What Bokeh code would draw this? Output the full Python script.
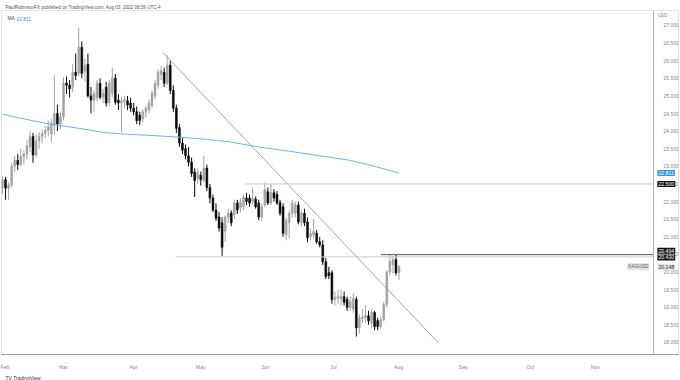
from bokeh.plotting import figure
from bokeh.models import ColumnDataSource, FixedTicker, NumeralTickFormatter, Label, Range1d, Title
from bokeh.embed import file_html
from bokeh.resources import INLINE

# ---------------- data ----------------
opens = [22.40, 22.62, 22.38, 22.47, 23.00, 23.17, 23.05, 23.28, 23.35, 23.55,
         23.85, 23.32, 23.72, 23.85, 23.93, 24.02, 23.92, 24.18, 24.50, 24.20,
         24.40, 25.36, 25.30, 25.25, 25.67, 25.64, 26.38, 25.70, 25.90, 25.00,
         24.88, 24.95, 25.36, 24.96, 25.25, 24.80, 25.07, 25.50, 24.88, 24.80,
         24.84, 24.86, 24.80, 24.65, 24.55, 24.45, 24.35, 24.55, 24.60, 24.73,
         25.00, 25.30, 25.60, 25.67, 25.36, 25.87, 25.16, 24.65, 24.10, 23.66,
         23.50, 23.30, 23.12, 22.84, 22.66, 22.75, 22.60, 22.95, 22.40, 22.10,
         21.76, 21.56, 21.40, 21.14, 21.56, 21.67, 21.62, 21.96, 21.82, 21.85,
         22.10, 22.10, 22.00, 22.07, 21.96, 21.56, 21.90, 22.28, 21.96, 22.25,
         22.20, 21.97, 21.85, 21.05, 21.40, 21.67, 21.67, 21.90, 21.42, 21.67,
         21.42, 21.00, 21.05, 21.10, 20.86, 20.77, 20.29, 19.98, 19.98, 19.22,
         19.25, 19.24, 19.30, 19.22, 18.99, 18.95, 19.22, 18.42, 18.68, 18.70,
         18.76, 18.56, 18.85, 18.62, 18.45, 18.65, 19.07, 20.00, 20.20, 20.35,
         19.98]
highs = [22.72, 22.70, 22.55, 23.10, 23.30, 23.35, 23.50, 23.45, 23.75, 24.00,
         23.95, 23.90, 23.98, 24.05, 24.15, 24.30, 24.35, 25.60, 24.75, 24.55,
         25.53, 25.55, 25.45, 25.90, 26.20, 26.94, 26.55, 26.05, 26.20, 25.25,
         25.15, 25.45, 25.50, 25.20, 25.40, 25.45, 25.80, 25.62, 25.05, 24.98,
         25.00, 25.00, 24.95, 24.80, 24.70, 24.55, 24.62, 24.72, 24.90, 25.15,
         25.45, 25.75, 25.85, 25.80, 26.15, 26.00, 25.30, 24.75, 24.20, 23.80,
         23.62, 23.55, 23.25, 22.95, 22.95, 22.85, 23.30, 23.05, 22.50, 22.20,
         21.95, 21.70, 21.55, 21.60, 21.80, 21.75, 22.05, 22.05, 22.10, 22.20,
         22.25, 22.20, 22.40, 22.15, 22.05, 21.95, 22.53, 22.40, 22.50, 22.35,
         22.30, 22.05, 21.95, 21.55, 21.75, 22.05, 22.00, 22.00, 21.75, 21.80,
         21.55, 21.25, 21.50, 21.20, 21.00, 20.90, 20.40, 20.15, 20.05, 19.45,
         19.50, 19.50, 19.45, 19.30, 19.30, 19.40, 19.30, 18.80, 18.95, 19.05,
         18.90, 18.95, 18.90, 18.70, 18.75, 19.15, 20.05, 20.49, 20.45, 20.494,
         20.20]
lows = [22.22, 22.05, 22.05, 22.40, 22.85, 22.90, 23.00, 23.05, 23.20, 23.40,
        23.10, 23.25, 23.50, 23.65, 23.80, 23.85, 23.70, 23.90, 24.00, 24.05,
        24.30, 25.05, 24.95, 25.10, 25.45, 25.55, 25.50, 25.40, 24.95, 24.50,
        24.55, 24.85, 24.90, 24.80, 24.70, 24.70, 24.95, 24.75, 24.60, 23.97,
        24.65, 24.60, 24.55, 24.45, 24.20, 24.17, 24.25, 24.40, 24.50, 24.65,
        24.90, 25.20, 25.45, 25.25, 25.30, 25.05, 24.55, 23.95, 23.55, 23.35,
        23.20, 23.00, 22.70, 22.13, 22.50, 22.45, 22.55, 22.30, 21.95, 21.70,
        21.45, 21.15, 20.46, 20.85, 21.40, 21.30, 21.50, 21.65, 21.70, 21.75,
        21.90, 21.85, 21.90, 21.80, 21.47, 21.45, 21.85, 21.90, 21.90, 22.00,
        21.90, 21.60, 21.00, 20.90, 20.95, 21.55, 21.55, 21.35, 21.30, 21.30,
        20.85, 20.90, 20.95, 20.80, 20.70, 20.20, 19.80, 19.80, 19.10, 19.05,
        19.10, 19.05, 19.05, 18.90, 18.90, 18.85, 18.17, 18.25, 18.55, 18.55,
        18.50, 18.40, 18.35, 18.35, 18.40, 18.60, 19.00, 19.90, 19.95, 19.90,
        19.78]
closes = [22.62, 22.38, 22.47, 23.00, 23.17, 23.05, 23.28, 23.35, 23.58, 23.85,
          23.32, 23.72, 23.85, 23.93, 24.02, 24.12, 24.22, 24.50, 24.20, 24.40,
          25.36, 25.30, 25.20, 25.67, 25.58, 26.38, 25.64, 25.88, 25.00, 24.88,
          25.07, 25.36, 24.96, 25.07, 24.80, 25.36, 25.50, 24.82, 24.80, 24.86,
          24.90, 24.74, 24.65, 24.55, 24.30, 24.30, 24.55, 24.65, 24.80, 25.07,
          25.36, 25.67, 25.72, 25.36, 25.87, 25.16, 24.65, 24.08, 23.66, 23.46,
          23.30, 23.12, 22.80, 22.60, 22.81, 22.62, 22.95, 22.40, 22.10, 21.76,
          21.53, 21.25, 20.70, 21.56, 21.67, 21.40, 21.96, 21.76, 21.99, 22.13,
          22.00, 21.96, 22.10, 21.85, 21.56, 21.85, 22.33, 21.96, 22.25, 22.10,
          21.96, 21.67, 21.10, 21.47, 21.67, 21.96, 21.90, 21.42, 21.67, 21.40,
          20.97, 21.10, 21.15, 20.86, 20.77, 20.29, 19.87, 19.90, 19.22, 19.28,
          19.30, 19.32, 19.14, 18.99, 19.16, 19.25, 18.42, 18.70, 18.72, 18.76,
          18.62, 18.85, 18.45, 18.45, 18.65, 19.07, 20.00, 20.29, 20.35, 19.98,
          20.148]
bar_index = list(range(len(closes)))

ma_index = [0, 8, 16, 25, 34, 44, 54, 64, 74, 84, 94, 104, 114, 122, 130]
ma_values = [24.48, 24.33, 24.19, 24.08, 23.95, 23.90, 23.85, 23.79, 23.70,
             23.55, 23.43, 23.30, 23.17, 23.00, 22.81]

month_ticks = [-0.3, 20, 43, 65, 86.2, 108.5, 129.8, 151.1, 173.1, 194.4]
month_labels = ["Feb", "Mar", "Apr", "May", "Jun", "Jul", "Aug", "Sep", "Oct", "Nov"]
price_ticks = [18.0, 18.5, 19.0, 19.5, 20.0, 20.5, 21.0, 21.5, 22.0, 22.5,
               23.0, 23.5, 24.0, 24.5, 25.0, 25.5, 26.0, 26.5, 27.0]

trend_index = [52.8, 143.0]
trend_price = [26.21, 17.98]

level_prices = [22.5, 20.43, 20.494]
level_start = [79.7, 56.7, 124.0]

ma_last = 22.811
last_price = 20.148
symbol = "XAGUSD"
publish_note = "PaulRobinsonFX published on TradingView.com, Aug 03, 2022 08:59 UTC-4"

# ---------------- layout constants ----------------
W, H = 680, 380
B_LEFT, B_RIGHT, B_TOP, B_BOTTOM = 1, 2, 10, 25
PX_PER_BAR = 3.05
PX_PER_USD = 35.33
X_START = -0.33
X_END = X_START + (W - B_LEFT - B_RIGHT) / PX_PER_BAR
X_SEP = 213.4                # price-scale separator (bar units)
Y_START = 17.659
Y_END = Y_START + (H - B_TOP - B_BOTTOM) / PX_PER_USD
FONT = "Liberation Sans"
GREY_TXT = "#8a8a8a"

p = figure(width=W, height=H, output_backend="svg", toolbar_location=None,
           x_range=Range1d(X_START, X_END), y_range=Range1d(Y_START, Y_END),
           y_axis_location="right", min_border_left=B_LEFT, min_border_right=B_RIGHT,
           min_border_top=B_TOP, min_border_bottom=B_BOTTOM)
p.background_fill_color = "white"
p.border_fill_color = "white"
p.outline_line_color = "#e3e3e3"
p.xgrid.grid_line_color = None
p.ygrid.grid_line_color = None

p.title.text = publish_note
p.title.align = "left"
p.title.text_font = FONT
p.title.text_font_size = "4.6px"
p.title.text_font_style = "normal"
p.title.text_color = "#555555"
p.title.standoff = 2
p.title.offset = 4

up_col, dn_col = "#a3a3a3", "#0a0a0a"
colors = [up_col if c >= o else dn_col for o, c in zip(opens, closes)]
src = ColumnDataSource(dict(
    x=bar_index, high=highs, low=lows,
    top=[max(o, c) for o, c in zip(opens, closes)],
    bottom=[min(o, c) for o, c in zip(opens, closes)],
    color=colors,
))
p.segment(x0="x", y0="low", x1="x", y1="high", line_color="color", line_width=1, source=src)
p.vbar(x="x", width=0.6, top="top", bottom="bottom", fill_color="color",
       line_color="color", line_width=0.6, source=src)

p.line(ma_index, ma_values, line_color="#6ab3f0", line_width=1)
p.line(trend_index, trend_price, line_color="#a8a8a8", line_width=1)
p.segment(x0=level_start, y0=level_prices, x1=[X_SEP] * len(level_prices), y1=level_prices,
          line_color=["#c8c8c8", "#c8c8c8", "#555555"], line_width=1)

# price axis, drawn at the separator
yax = p.yaxis[0]
yax.fixed_location = X_SEP
yax.ticker = FixedTicker(ticks=price_ticks)
yax.formatter = NumeralTickFormatter(format="0.000")
yax.major_label_text_font_size = "5.2px"
yax.major_label_text_font = FONT
yax.major_label_text_color = GREY_TXT
yax.major_tick_line_color = None
yax.minor_tick_line_color = None
yax.axis_line_color = "#b5b5b5"
yax.major_label_standoff = 4

xax = p.xaxis[0]
xax.ticker = FixedTicker(ticks=month_ticks)
xax.major_label_overrides = {t: l for t, l in zip(month_ticks, month_labels)}
xax.major_label_text_font_size = "5.2px"
xax.major_label_text_font = FONT
xax.major_label_text_color = GREY_TXT
xax.major_tick_line_color = None
xax.minor_tick_line_color = None
xax.axis_line_color = "#9a9a9a"
xax.major_label_standoff = 3

p.add_layout(Title(text="TV  TradingView", align="left", text_font=FONT,
                   text_font_size="5px", text_font_style="normal",
                   text_color="#333333", standoff=0, offset=4), "below")


def lab(**kw):
    base = dict(text_font=FONT, text_font_size="5.2px", text_baseline="middle")
    base.update(kw)
    p.add_layout(Label(**base))


lab(x=X_SEP, y=Y_END, x_offset=4, y_offset=-5, text="USD", text_color=GREY_TXT, text_font_size="4.8px")
lab(x=X_START, y=Y_END, x_offset=6, y_offset=-8, text="MA", text_color="#444444", text_font_size="4.8px")
lab(x=X_START, y=Y_END, x_offset=15, y_offset=-8, text=f"{ma_last:.3f}", text_color="#2f8fe8",
    text_font_size="4.8px")

# right-axis price tags
tag_specs = [
    (ma_last, 0, f"{ma_last:.3f}", "#2f96f0", "white"),
    (level_prices[0], 0, f"{level_prices[0]:.3f}", "#111111", "white"),
    (level_prices[2], 4, f"{level_prices[2]:.3f}", "#111111", "white"),
    (level_prices[1], -0.5, f"{level_prices[1]:.3f}", "#111111", "white"),
    (last_price, 0, f"{last_price:.3f}", "#e2e2e2", "#333333"),
]
for yv, off, txt, bg, fg in tag_specs:
    lab(x=X_SEP, y=yv, x_offset=4, y_offset=off, text=txt, text_color=fg,
        background_fill_color=bg, padding=1)
lab(x=X_SEP, y=last_price, x_offset=-4, text=symbol, text_align="right",
    text_color="#666666", background_fill_color="#e2e2e2", padding=1, text_font_size="4.8px")

open("out.html", "w").write(file_html(p, INLINE))
